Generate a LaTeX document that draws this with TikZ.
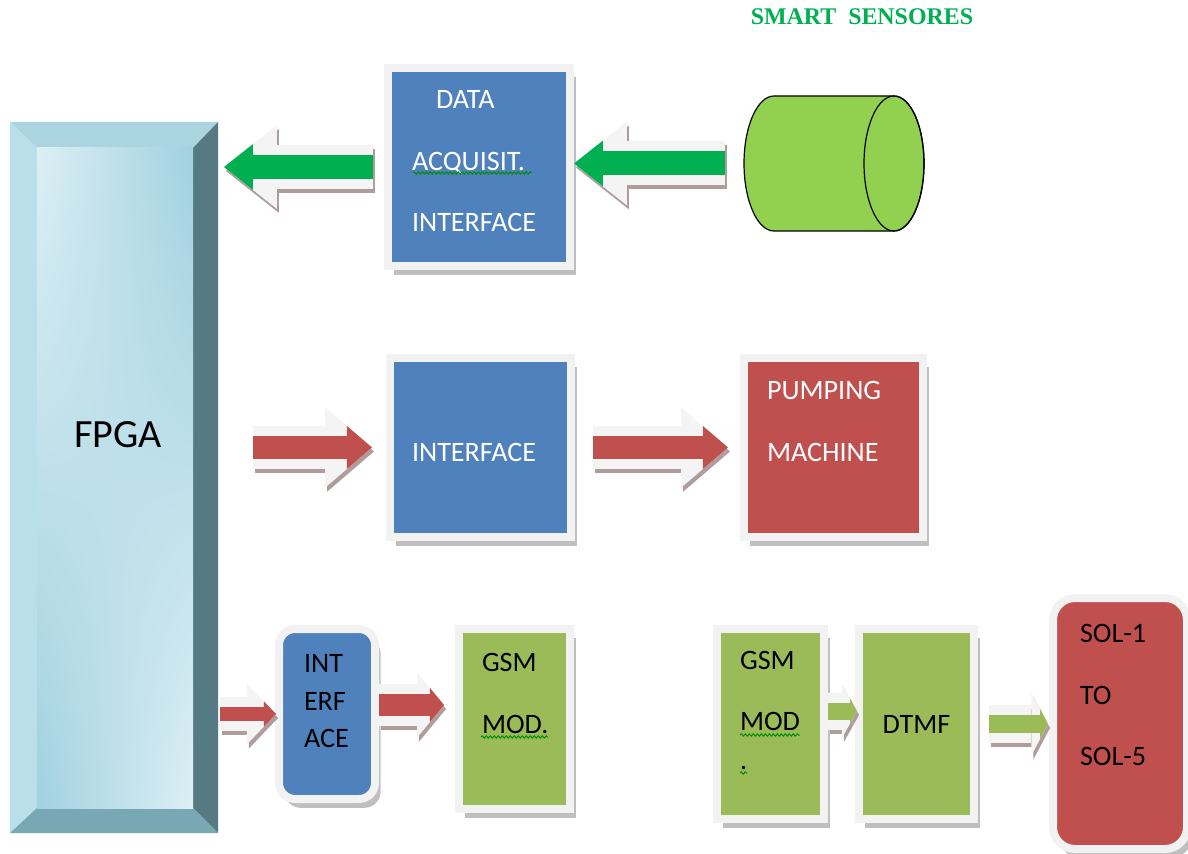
\documentclass[tikz,border=0pt]{standalone}
\usepackage{fontspec}
\usetikzlibrary{arrows.meta,shadows,shadings,decorations.pathmorphing}
\newfontfamily\carlito{Carlito}
\newfontfamily\serifgras{Liberation Serif}

\definecolor{bleu}{HTML}{4F81BD}
\definecolor{rouge}{HTML}{C0504D}
\definecolor{olive}{HTML}{9BBB59}
\definecolor{vertvif}{HTML}{00B050}
\definecolor{vertcyl}{HTML}{92D050}
\definecolor{cadre}{HTML}{F2F2F2}
\definecolor{halo}{HTML}{F4F4F4}
\definecolor{ombre}{HTML}{B09C9C}
\definecolor{fpgahaut}{HTML}{A9D4E0}
\definecolor{fpgagauche}{HTML}{B8DFEA}
\definecolor{fpgadroite}{HTML}{567A84}
\definecolor{fpgabas}{HTML}{77A8B3}
\definecolor{fpgaclair}{HTML}{DDEFF5}
\definecolor{fpgafonce}{HTML}{A0D1DF}

\begin{document}
\begin{tikzpicture}[x=0.25mm,y=-0.25mm]
		\tikzstyle{boite} = [rectangle,draw=cadre,line width=2mm,inner sep=0pt,outer sep=0pt,drop shadow={shadow xshift=1.4mm,shadow yshift=-2.2mm,fill=black!50,opacity=0.5}]
		\tikzstyle{texte} = [font=\carlito\fontsize{20}{44}\selectfont,align=left]
		\tikzstyle{fleche} = [preaction={draw=ombre,line width=\pgflinewidth+2.5mm,transform canvas={xshift=0.5mm,yshift=-1mm}},preaction={draw=halo,line width=\pgflinewidth+2.5mm}]
		\tikzset{pointe/.style 2 args={-{Triangle[width=0pt #1,length=0pt #2,line width=0pt]}}}
		\tikzstyle{vague} = [draw=green!55!black,line width=0.25mm,decorate,decoration={snake,amplitude=0.3mm,segment length=1mm}]
		
		\useasboundingbox (0,0) rectangle (1188,854);
		
		% FPGA
		\node[minimum width=52mm,minimum height=177.75mm,inner sep=0pt,outer sep=0pt] (fpga) at (114,477.5) {};
		\fill[fpgahaut] (10,122) -- (218,122) -- (193,148) -- (37,148) -- cycle;
		\fill[fpgagauche] (10,122) -- (37,148) -- (37,808) -- (10,833) -- cycle;
		\fill[fpgadroite] (218,122) -- (218,833) -- (193,808) -- (193,148) -- cycle;
		\fill[fpgabas] (10,833) -- (218,833) -- (193,808) -- (37,808) -- cycle;
		\shade[upper left=fpgaclair,upper right=fpgafonce,lower left=fpgafonce,lower right=fpgaclair] (37,148) rectangle (193,808);
		\node[font=\carlito\fontsize{28.5}{32}\selectfont] (fpgatexte) at (118,435) {FPGA};
		
		% capteurs
		\node[font=\serifgras\bfseries\fontsize{17}{20}\selectfont,text=vertvif] (titre) at (862,17) {SMART\ \ SENSORES};
		\node[minimum width=45mm,minimum height=33.75mm,inner sep=0pt,outer sep=0pt] (capteur) at (834,163.5) {};
		\draw[fill=vertcyl,line width=0.3mm] (774,96) -- (894,96) arc[start angle=90,end angle=-90,x radius=7.5mm,y radius=16.875mm] -- (774,231) arc[start angle=270,end angle=90,x radius=7.5mm,y radius=16.875mm] -- cycle;
		\draw[line width=0.3mm] (894,163.5) ellipse[x radius=7.5mm,y radius=16.875mm];
		
		\node[boite,fill=bleu,minimum width=45.5mm,minimum height=49.5mm,texte,text=white,text width=33.5mm] (acq) at (479,167) {\hspace*{6mm}DATA\\ACQUISIT.\\INTERFACE\rule[-3mm]{0pt}{0pt}};
		\node[boite,fill=bleu,minimum width=45.25mm,minimum height=44.75mm,texte,text=white,text width=34.25mm] (intf) at (480.5,447.5) {\rule{0pt}{7mm}INTERFACE};
		\node[boite,fill=rouge,minimum width=44.75mm,minimum height=44.75mm,texte,text=white,text width=33.25mm] (pompe) at (833.5,447.5) {PUMPING\\MACHINE\rule[-13.25mm]{0pt}{0pt}};
		
		\node[boite,fill=bleu,rounded corners=4mm,minimum width=24mm,minimum height=42.5mm,texte,font=\carlito\fontsize{20}{27}\selectfont,text width=11.5mm] (intf2) at (327,714) {INT\\ERF\\ACE\rule[-6.5mm]{0pt}{0pt}};
		\node[boite,fill=olive,minimum width=27.75mm,minimum height=45mm,texte,text width=16.25mm] (gsm1) at (514.5,719) {GSM\\MOD.\rule[-13mm]{0pt}{0pt}};
		\node[boite,fill=olive,minimum width=26.75mm,minimum height=47.5mm,texte,text width=15.25mm] (gsm2) at (770.5,724) {GSM\\MOD\\[-16.6pt].\rule[-6.9mm]{0pt}{0pt}};
		\node[boite,fill=olive,minimum width=28.75mm,minimum height=47.5mm,texte,align=center] (dtmf) at (916.5,724) {DTMF};
		\node[boite,fill=rouge,rounded corners=5.5mm,minimum width=33.5mm,minimum height=62.75mm,texte,text width=20mm] (sol) at (1120,723.5) {SOL-1\\TO\\SOL-5\rule[-14.25mm]{0pt}{0pt}};
		
		\coordinate (r2) at ([yshift=2.25mm]intf2.east);
		\coordinate (v1) at ([yshift=3.25mm]gsm2.east);
		
		\draw[fleche,pointe={1.9}{1.2},draw=vertvif,line width=6mm,shorten <=3.75mm,shorten >=1.5mm] (acq.west) -- (fpga.east |- acq.west);
		\draw[fleche,pointe={1.9}{1.2},draw=vertvif,line width=6mm,shorten <=4.75mm,shorten >=1mm] (capteur.west) -- (acq.east |- capteur.west);
		\draw[fleche,pointe={1.87}{1.09},draw=rouge,line width=5.75mm,shorten <=8.75mm,shorten >=4.5mm] (fpga.east |- intf.west) -- (intf.west);
		\draw[fleche,pointe={1.87}{1.09},draw=rouge,line width=5.75mm,shorten <=5.5mm,shorten >=4mm] (intf.east) -- (pompe.west);
		\draw[fleche,pointe={1.8}{0.86},draw=rouge,line width=3.5mm,shorten <=0.5mm,shorten >=0.75mm] (fpga.east |- intf2.west) -- (intf2.west);
		\draw[fleche,pointe={1.55}{0.64},draw=rouge,line width=5.5mm,shorten <=1mm,shorten >=3.75mm] (r2) -- (r2 -| gsm1.west);
		\draw[fleche,pointe={1.47}{0.41},draw=olive,line width=4.25mm,shorten <=1mm,shorten >=0.5mm] (v1) -- (v1 -| dtmf.west);
		\draw[fleche,pointe={1.67}{0.44},draw=olive,line width=4.5mm,shorten <=3.75mm,shorten >=1.25mm] (dtmf.east) -- (sol.west |- dtmf.east);
		
		% soulignements
		\draw[vague] (413,173) -- (532,173);
		\draw[vague] (481,737) -- (548,737);
		\draw[vague] (740,735) -- (800,735);
		\draw[vague] (740,773) -- (747,773);
		
\end{tikzpicture}
\end{document}
